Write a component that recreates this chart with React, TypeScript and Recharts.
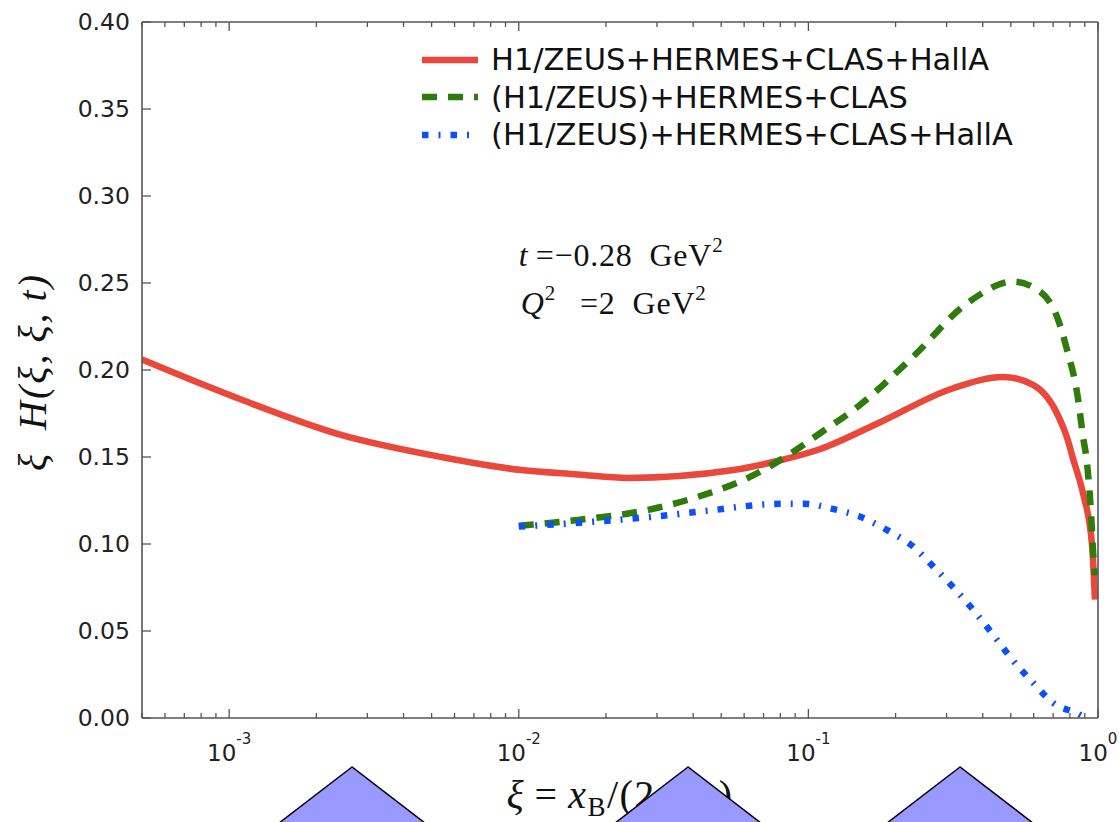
import React from 'react';
import { LineChart, Line, XAxis, YAxis, Legend, ReferenceDot, Label } from 'recharts';

// xi values (log axis) and xi*H(xi,xi,t)
const fullXi = [0.0005, 0.0011, 0.0024, 0.0054, 0.0102, 0.016, 0.0238, 0.0551, 0.0781, 0.11, 0.177, 0.316, 0.47, 0.597, 0.722, 0.782, 0.82, 0.888, 0.953, 0.976];
const fullH = [0.206, 0.183, 0.163, 0.15, 0.1425, 0.14, 0.138, 0.1425, 0.1477, 0.1546, 0.17, 0.1895, 0.196, 0.1914, 0.175, 0.161, 0.149, 0.129, 0.1, 0.068];

const noHallAXi = [0.01, 0.016, 0.0285, 0.0424, 0.0631, 0.0888, 0.11, 0.148, 0.23, 0.353, 0.509, 0.631, 0.722, 0.782, 0.847, 0.888, 0.916, 0.946, 0.962, 0.975];
const noHallAH = [0.1105, 0.1138, 0.1199, 0.1276, 0.1387, 0.1531, 0.1638, 0.1789, 0.2077, 0.2383, 0.2508, 0.245, 0.2306, 0.2115, 0.1868, 0.1617, 0.1466, 0.1178, 0.095, 0.082];

const bracketXi = [0.01, 0.0181, 0.0292, 0.047, 0.0757, 0.0962, 0.119, 0.151, 0.187, 0.23, 0.27, 0.321, 0.377, 0.435, 0.505, 0.592, 0.699, 0.867, 0.9];
const bracketH = [0.11, 0.1128, 0.1157, 0.1195, 0.123, 0.1232, 0.1205, 0.1157, 0.108, 0.0985, 0.087, 0.074, 0.0607, 0.0477, 0.0337, 0.0209, 0.0088, 0.0017, 0.0];

const seriesNames = ['H1/ZEUS+HERMES+CLAS+HallA', '(H1/ZEUS)+HERMES+CLAS', '(H1/ZEUS)+HERMES+CLAS+HallA'];

const xMajorTicks = [0.001, 0.01, 0.1, 1];
const xTickExponents = ['-3', '-2', '-1', '0'];
const xMinorTicks: number[] = [];
[-4, -3, -2, -1].forEach(e => {
  for (let k = 2; k <= 9; k++) {
    const v = k * Math.pow(10, e);
    if (v >= 0.0005) xMinorTicks.push(v);
  }
});
const xAllTicks = [...xMinorTicks, ...xMajorTicks].sort((a, b) => a - b);
const yTicks = [0, 0.05, 0.1, 0.15, 0.2, 0.25, 0.3, 0.35, 0.4];

const toPoints = (xs: number[], ys: number[]) => xs.map((xi, i) => ({ xi, h: ys[i] }));

const RED = '#e9483c';
const GREEN = '#2f7b0c';
const BLUE = '#0a50ff';
const SPINE = '#555';
const TICK_GAP = 10;
const TICK_FONT = 'DejaVu Sans';

const styles = [
  { color: RED, width: 6.5, dash: undefined as string | undefined },
  { color: GREEN, width: 6.5, dash: '15 11' },
  { color: BLUE, width: 6.5, dash: '6.5 10 2 10' },
];

const isMajor = (v: number) => xMajorTicks.some(m => Math.abs(m - v) < m * 1e-6);

const BottomTick = (props: any) => {
  const { x, y, payload } = props;
  const axisY = y - TICK_GAP;
  const major = isMajor(payload.value);
  const idx = xMajorTicks.findIndex(m => Math.abs(m - payload.value) < m * 1e-6);
  return (
    <g>
      <line x1={x} x2={x} y1={axisY} y2={axisY - (major ? 9 : 5)} stroke={SPINE} strokeWidth={1.3} />
      {major && (
        <text x={x} y={axisY + 43} textAnchor="middle" fontFamily={TICK_FONT} fontSize={23} fill="#222">
          10<tspan dy={-17} fontSize={15}>{xTickExponents[idx]}</tspan>
        </text>
      )}
    </g>
  );
};

const TopTick = (props: any) => {
  const { x, y, payload } = props;
  const axisY = y + TICK_GAP;
  const major = isMajor(payload.value);
  return <line x1={x} x2={x} y1={axisY} y2={axisY + (major ? 9 : 5)} stroke={SPINE} strokeWidth={1.3} />;
};

const LeftTick = (props: any) => {
  const { x, y, payload } = props;
  const axisX = x + TICK_GAP;
  return (
    <g>
      <line x1={axisX} x2={axisX + 9} y1={y} y2={y} stroke={SPINE} strokeWidth={1.3} />
      <text x={axisX - 12} y={y} dy="0.36em" textAnchor="end" fontFamily={TICK_FONT} fontSize={23.5} fill="#222">
        {payload.value.toFixed(2)}
      </text>
    </g>
  );
};

const RightTick = (props: any) => {
  const { x, y } = props;
  const axisX = x - TICK_GAP;
  return <line x1={axisX} x2={axisX - 9} y1={y} y2={y} stroke={SPINE} strokeWidth={1.3} />;
};

const YTitle = (props: any) => {
  const { viewBox } = props;
  const cx = viewBox.x + 34;
  const cy = viewBox.y + viewBox.height / 2 + 2;
  return (
    <text
      x={cx}
      y={cy}
      transform={`rotate(-90, ${cx}, ${cy})`}
      textAnchor="middle"
      dy="0.3em"
      fontFamily="Liberation Serif"
      fontStyle="italic"
      fontSize={40}
      letterSpacing={2}
      fill="#111"
    >
      ξ{'\u2002'}H(ξ,{'\u2009'}ξ,{'\u2009'}t)
    </text>
  );
};

const XTitle = (props: any) => {
  const { viewBox } = props;
  const cx = viewBox.x + viewBox.width / 2;
  const cy = viewBox.y + 90;
  return (
    <text x={cx} y={cy} textAnchor="middle" fontFamily="Liberation Serif" fontSize={40} letterSpacing={1.5} fill="#111">
      <tspan fontStyle="italic">ξ</tspan>{'\u2009=\u2009'}<tspan fontStyle="italic">x</tspan>
      <tspan dy={8} fontSize={27}>B</tspan>
      <tspan dy={-8}>/(2−</tspan>
      <tspan fontStyle="italic">x</tspan>
      <tspan dy={8} fontSize={27}>B</tspan>
      <tspan dy={-8}>)</tspan>
    </text>
  );
};

const Annotation = (props: any) => {
  const { viewBox } = props;
  const x = viewBox.x;
  const y = viewBox.y;
  return (
    <text fontFamily="Liberation Serif" fontSize={32} letterSpacing={0.8} fill="#111">
      <tspan x={x} y={y}>
        <tspan fontStyle="italic">t</tspan>
        {'\u2009=−0.28\u2002GeV'}
        <tspan dy={-14} fontSize={21}>2</tspan>
      </tspan>
      <tspan x={x + 2} y={y + 48}>
        <tspan fontStyle="italic">Q</tspan>
        <tspan dy={-14} fontSize={21}>2</tspan>
        <tspan dy={14}>{'\u2002\u2009=2\u2002GeV'}</tspan>
        <tspan dy={-14} fontSize={21}>2</tspan>
      </tspan>
    </text>
  );
};

const LegendBox = () => (
  <div style={{ fontFamily: 'DejaVu Sans', fontSize: 30.5, color: '#111' }}>
    {seriesNames.map((name, i) => (
      <div key={name} style={{ display: 'flex', alignItems: 'center', height: 37.5, whiteSpace: 'nowrap' }}>
        <svg width={58} height={12} style={{ marginRight: 12 }}>
          <line x1={1} x2={57} y1={6} y2={6} stroke={styles[i].color} strokeWidth={styles[i].width} strokeDasharray={styles[i].dash} />
        </svg>
        <span>{name}</span>
      </div>
    ))}
  </div>
);

const triangleApexX = [352, 688, 960];

const App: React.FC = () => {
  const full = toPoints(fullXi, fullH);
  const noHallA = toPoints(noHallAXi, noHallAH);
  const bracket = toPoints(bracketXi, bracketH);

  return (
    <div style={{ position: 'absolute', left: 0, top: 0, width: 1119, height: 822, background: '#fff', overflow: 'hidden' }}>
      <LineChart width={1119} height={822} margin={{ top: 21, right: 20, bottom: 0, left: 0 }}>
        <XAxis
          xAxisId="bottom"
          type="number"
          dataKey="xi"
          scale="log"
          domain={[0.0005, 1]}
          allowDataOverflow
          ticks={xAllTicks}
          interval={0}
          height={104}
          tickSize={0}
          tickMargin={TICK_GAP}
          tickLine={false}
          tick={<BottomTick />}
          axisLine={{ stroke: SPINE, strokeWidth: 1.6 }}
        >
          <Label content={<XTitle />} />
        </XAxis>
        <XAxis
          xAxisId="top"
          orientation="top"
          type="number"
          dataKey="xi"
          scale="log"
          domain={[0.0005, 1]}
          allowDataOverflow
          ticks={xAllTicks}
          interval={0}
          height={1}
          tickSize={0}
          tickMargin={TICK_GAP}
          tickLine={false}
          tick={<TopTick />}
          axisLine={{ stroke: SPINE, strokeWidth: 1.6 }}
        />
        <YAxis
          yAxisId="left"
          type="number"
          domain={[0, 0.4]}
          ticks={yTicks}
          interval={0}
          width={142}
          tickSize={0}
          tickMargin={TICK_GAP}
          tickLine={false}
          tick={<LeftTick />}
          axisLine={{ stroke: SPINE, strokeWidth: 1.6 }}
        >
          <Label content={<YTitle />} />
        </YAxis>
        <YAxis
          yAxisId="right"
          orientation="right"
          type="number"
          domain={[0, 0.4]}
          ticks={yTicks}
          interval={0}
          width={1}
          tickSize={0}
          tickMargin={TICK_GAP}
          tickLine={false}
          tick={<RightTick />}
          axisLine={{ stroke: SPINE, strokeWidth: 1.6 }}
        />
        <Line xAxisId="bottom" yAxisId="left" data={full} dataKey="h" name={seriesNames[0]} type="monotone" stroke={RED} strokeWidth={styles[0].width} dot={false} isAnimationActive={false} />
        <Line xAxisId="bottom" yAxisId="left" data={noHallA} dataKey="h" name={seriesNames[1]} type="monotone" stroke={GREEN} strokeWidth={styles[1].width} strokeDasharray={styles[1].dash} dot={false} isAnimationActive={false} />
        <Line xAxisId="bottom" yAxisId="left" data={bracket} dataKey="h" name={seriesNames[2]} type="monotone" stroke={BLUE} strokeWidth={styles[2].width} strokeDasharray={styles[2].dash} dot={false} isAnimationActive={false} />
        <ReferenceDot xAxisId="bottom" yAxisId="left" x={0.01} y={0.2595} r={0} fill="none" stroke="none" label={<Label content={<Annotation />} />} />
        <Legend
          layout="horizontal"
          align="center"
          verticalAlign="middle"
          content={<LegendBox />}
          wrapperStyle={{ left: 421, top: 41, width: 'auto', height: 'auto' }}
        />
      </LineChart>
      <svg width={1119} height={822} style={{ position: 'absolute', left: 0, top: 0, pointerEvents: 'none' }}>
        {triangleApexX.map(ax => (
          <polygon key={ax} points={`${ax},767 ${ax - 82},830 ${ax + 82},830`} fill="#9999ff" stroke="#000" strokeWidth={1.5} />
        ))}
      </svg>
    </div>
  );
};

export default App;
